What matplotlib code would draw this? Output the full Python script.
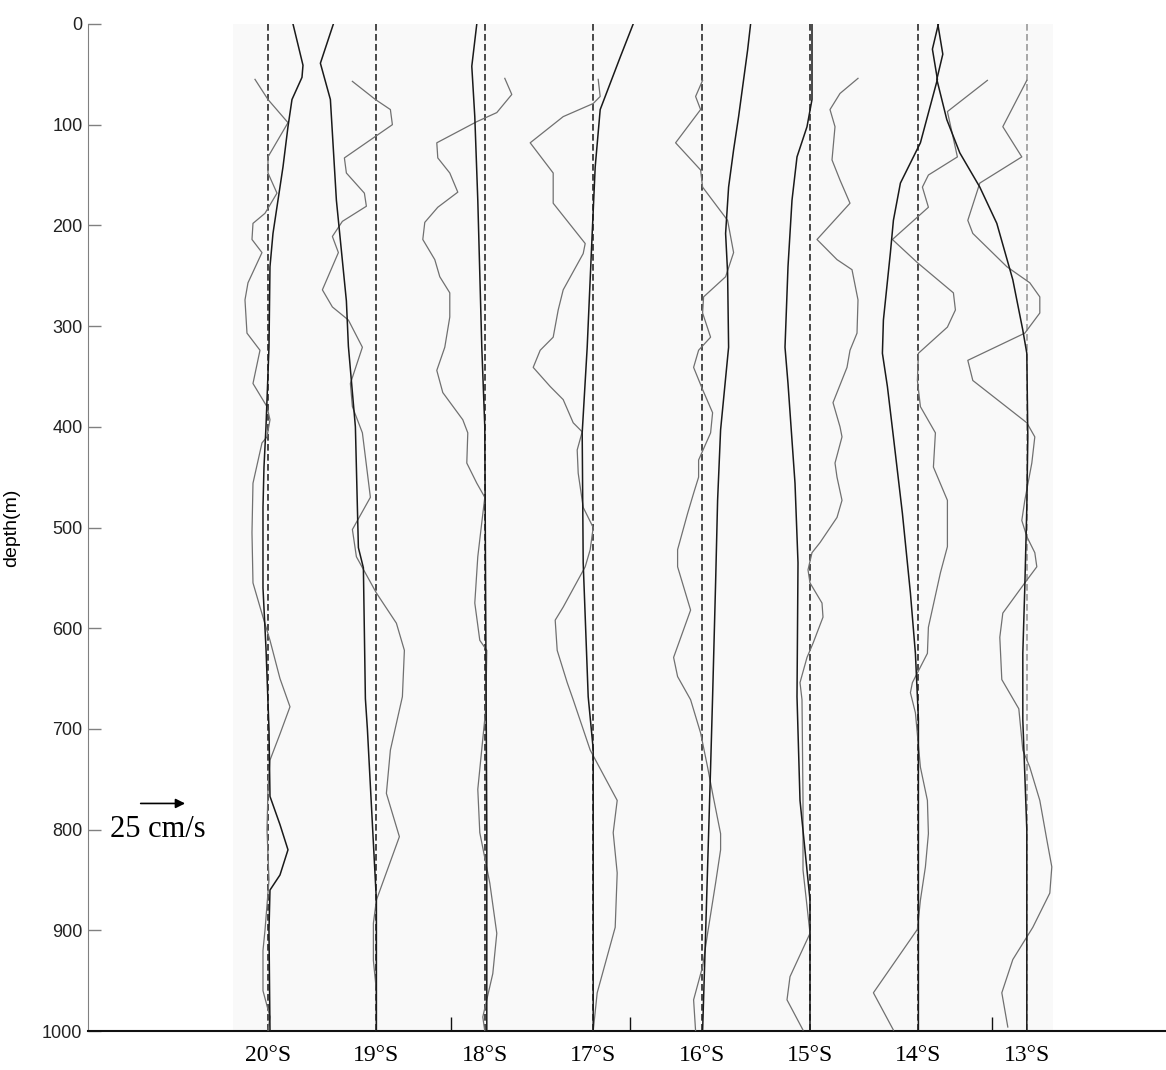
import numpy as np
import matplotlib
matplotlib.use('Agg')
import matplotlib.pyplot as plt

# station latitudes (deg S) and tick labels
lats = [20, 19, 18, 17, 16, 15, 14, 13]
lat_labels = ['20°S', '19°S', '18°S', '17°S', '16°S', '15°S', '14°S', '13°S']
extra_ticks = [18.31, 16.66, 13.32]   # short marks on the bottom axis
depth_ticks = [0, 100, 200, 300, 400, 500, 600, 700, 800, 900, 1000]
ref_speed = 25  # cm/s, scale arrow

# velocity profiles (cm/s) vs depth (m)
# "dark" = smooth profile from the surface, "gray" = wiggly profile from ~55 m
d20_dark = [0, 41, 53, 75, 102, 142, 175, 208, 241, 321, 400, 440, 480, 560, 620, 700, 767, 795, 820, 845, 860, 900, 1000]
u20_dark = [12.5, 17.5, 17, 12, 10, 7.5, 5, 2.5, 1, 0.5, -1, -2, -2.5, -2.5, -1, 0.5, 1, 6, 10, 6, 1, 0.5, 1]
d20_gray = [55, 75, 98, 132, 148, 168, 188, 198, 214, 227, 257, 274, 307, 324, 357, 380, 393, 410, 416, 456, 505, 555, 589, 612, 650, 678, 705, 731, 760, 800, 850, 900, 920, 960, 986, 1000]
u20_gray = [-6.5, 0, 10, 0, 0, 4.5, -1.5, -7.5, -8, -3, -10, -11.5, -10.5, -4, -7.5, -0.5, 1, -0.5, -3, -7.5, -8, -7.5, -2.5, 1, 6, 11, 6, 1, 0, -0.5, 0.5, -1.5, -2.5, -2.5, 1, 0]

d19_dark = [0, 39, 75, 175, 275, 320, 400, 520, 540, 670, 700, 870, 1000]
u19_dark = [-21.5, -28, -23, -20, -15, -14, -10.5, -9, -6.5, -5.5, -4.5, 0, 0]
d19_gray = [57, 75, 85, 100, 133, 148, 168, 181, 196, 211, 227, 264, 281, 294, 321, 357, 380, 406, 470, 502, 529, 565, 595, 622, 668, 721, 764, 807, 870, 893, 930, 960, 1000]
u19_gray = [-12, -0.5, 7, 8, -16, -15, -6, -5, -17, -22, -19, -27, -22, -14, -7, -13, -12, -7, -3, -12, -10, 0, 10, 14, 13, 7, 5, 11.5, 0, -1.5, -1.5, 0, 0]

d18_dark = [0, 42, 92, 175, 321, 400, 600, 800, 1000]
u18_dark = [-4, -6.5, -5, -3.5, -1.5, 0, 0.5, 1, 1]
d18_gray = [54, 70, 88, 97, 118, 133, 148, 167, 182, 197, 214, 234, 251, 267, 291, 321, 344, 366, 393, 406, 436, 456, 470, 495, 529, 575, 612, 622, 680, 720, 760, 803, 853, 903, 943, 986, 1000]
u18_gray = [10, 13.5, 6, -4, -24, -23.5, -17.5, -13.5, -23.5, -30, -31, -25, -22.5, -17.5, -17.5, -20, -24, -21, -11, -8.5, -9, -4, 0, -1.5, -3.5, -5, -2.5, 1, 0.5, -1.5, -3.5, -2.5, 2.5, 6, 4, -1, 0]

d17_dark = [0, 33, 85, 142, 208, 321, 406, 535, 668, 720, 1000]
u17_dark = [20, 13.5, 3.5, 1, -0.5, -3, -5.5, -5, -2.5, 0, 0]
d17_gray = [55, 72, 79, 92, 118, 148, 178, 218, 228, 264, 284, 311, 324, 341, 360, 373, 396, 405, 423, 446, 480, 500, 522, 539, 579, 592, 622, 654, 671, 721, 771, 803, 843, 897, 962, 1000]
u17_gray = [2.5, 3.5, 0, -15, -31.5, -20, -20, -4, -5, -15, -17.5, -20, -26.5, -30, -21.5, -15, -10, -5.5, -8, -7.5, -5, 0, -1.5, -4, -15, -19, -18, -13, -10, -1.5, 12, 10, 12, 11, 2, 0]

d16_dark = [0, 26, 92, 125, 162, 208, 247, 321, 403, 473, 555, 668, 738, 903, 1000]
u16_dark = [24.5, 23, 18.5, 16, 13.5, 12, 13, 13.5, 9.5, 8, 7, 5.5, 4.5, 2, 0.5]
d16_gray = [56, 72, 85, 118, 145, 162, 195, 227, 251, 271, 287, 311, 324, 341, 363, 386, 406, 433, 450, 466, 486, 522, 539, 582, 629, 648, 671, 704, 738, 764, 804, 820, 853, 903, 936, 969, 1000]
u16_gray = [0.5, -3, -0.5, -13, -0.5, 0.5, 13, 16, 12, 1, 0.5, 4.5, -1.5, -4, 0.5, 5.5, 4.5, -1.5, -1.5, -4, -7, -12, -12, -5.5, -14, -12, -5.5, -0.5, 3, 5.5, 9.5, 9.5, 7, 3, 0.5, -4, -3]

d15_dark = [0, 75, 102, 132, 175, 241, 321, 357, 456, 535, 668, 771, 870, 1000]
u15_dark = [1, 1, -1.5, -6.5, -9, -11, -12.5, -11, -7.5, -6, -6.5, -5, 0, 0]
d15_gray = [54, 69, 85, 102, 135, 155, 178, 214, 234, 244, 274, 307, 324, 341, 366, 376, 400, 410, 436, 450, 473, 490, 515, 525, 542, 555, 575, 589, 615, 629, 654, 671, 771, 840, 903, 946, 969, 999]
u15_gray = [24, 15, 10, 12.5, 11, 15, 20, 3.5, 13.5, 21, 24, 23.5, 20, 18.5, 13.5, 11.5, 15, 16, 12.5, 13.5, 16, 13.5, 5, 1, -1, 0, 6, 6.5, 1.5, -1.5, -5, -4, -3.5, -3.5, 0, -10, -11.5, -3.5]

d14_dark = [0, 25, 55, 118, 158, 195, 227, 294, 327, 360, 410, 486, 565, 625, 690, 1000]
u14_dark = [10, 7, 9.5, 1, -9, -12.5, -14, -17.5, -18, -15.5, -12.5, -8, -4, -1.5, 0, 0]
d14_gray = [56, 87, 132, 150, 162, 182, 214, 237, 267, 284, 301, 327, 354, 380, 406, 440, 473, 519, 545, 599, 625, 654, 664, 684, 738, 771, 804, 837, 870, 899, 962, 999]
u14_gray = [34.5, 14.5, 19.5, 5, 2, 5, -13, -0.5, 17.5, 18.5, 14.5, 0, -0.5, 1, 8.5, 7.5, 14.5, 14.5, 11, 5, 4.5, -3, -4, -1.5, 1, 4.5, 5, 3.5, 1, -0.5, -22.5, -12.5]

d13_dark = [0, 30, 55, 95, 128, 162, 198, 254, 304, 327, 410, 480, 559, 625, 691, 800, 1000]
u13_dark = [-44.5, -42, -45, -40, -33.5, -23.5, -15, -7, -2, 0, 0.5, 0, -1, -2, -2, 0, 0]
d13_gray = [56, 102, 132, 158, 195, 208, 241, 257, 271, 287, 307, 334, 354, 396, 410, 436, 473, 493, 509, 525, 539, 555, 585, 609, 651, 680, 721, 738, 771, 810, 837, 863, 897, 929, 962, 996]
u13_gray = [0, -12, -2.5, -23.5, -29.5, -27, -10, 1.5, 6.5, 6.5, -1, -29.5, -27, 0, 4, 2.5, -1, -2.5, 0, 4, 5, -1, -12, -13.5, -12.5, -4, -2, 1.5, 6.5, 10, 12.5, 11.5, 3, -7, -12.5, -9.5]

dark = [(d20_dark, u20_dark), (d19_dark, u19_dark), (d18_dark, u18_dark), (d17_dark, u17_dark),
        (d16_dark, u16_dark), (d15_dark, u15_dark), (d14_dark, u14_dark), (d13_dark, u13_dark)]
gray = [(d20_gray, u20_gray), (d19_gray, u19_gray), (d18_gray, u18_gray), (d17_gray, u17_gray),
        (d16_gray, u16_gray), (d15_gray, u15_gray), (d14_gray, u14_gray), (d13_gray, u13_gray)]

scale = 2 / 108.4  # degrees of latitude per cm/s

fig = plt.figure(figsize=(11.66, 10.70), dpi=100)
ax = fig.add_axes([0.0755, 0.0364, 0.9245, 0.9412])
ax.set_xlim(-21.66, -11.716)
ax.set_ylim(1000, 0)
ax.axvspan(-20.32, -12.76, color='#f9f9f9', lw=0, zorder=0)

for i, lat in enumerate(lats):
    x0 = -lat
    dcol = '#9a9a9a' if lat == 13 else '#2a2a2a'
    ax.plot([x0, x0], [0, 1000], color=dcol, lw=1.2, ls=(0, (4, 2)), zorder=2)
    dg, ug = gray[i]
    ax.plot(x0 + np.array(ug) * scale, dg, color='#707070', lw=0.9, zorder=3)
    dd, ud = dark[i]
    ax.plot(x0 + np.array(ud) * scale, dd, color='#1a1a1a', lw=1.1, zorder=4)

# scale arrow
ax.annotate('', xy=(-21.2 + ref_speed * scale, 774), xytext=(-21.2, 774),
            arrowprops=dict(arrowstyle='-|>', color='black', lw=1.2, mutation_scale=14),
            annotation_clip=False)
ax.text(-21.46, 800, '25 cm/s', fontsize=22, family='Liberation Serif', va='center', ha='left')

ax.spines['top'].set_visible(False)
ax.spines['right'].set_visible(False)
ax.spines['left'].set_color('#808080')
ax.spines['bottom'].set_color('#111111')
ax.spines['bottom'].set_linewidth(1.5)

ax.set_yticks(depth_ticks)
ax.set_yticklabels([str(d) for d in depth_ticks], family='Liberation Sans', fontsize=13, color='#222222')
ax.tick_params(axis='y', direction='in', length=9, width=1, color='#808080', pad=4)
ax.set_ylabel('depth(m)', family='Liberation Sans', fontsize=14)
ax.yaxis.set_label_coords(-0.063, 0.5)

ax.set_xticks([-l for l in lats])
ax.set_xticklabels(lat_labels, family='Liberation Serif', fontsize=17)
ax.tick_params(axis='x', which='major', length=0, pad=10)
ax.set_xticks([-l for l in extra_ticks], minor=True)
ax.tick_params(axis='x', which='minor', direction='in', length=10, width=1, color='#111111')

fig.savefig('out.png', dpi=100)
